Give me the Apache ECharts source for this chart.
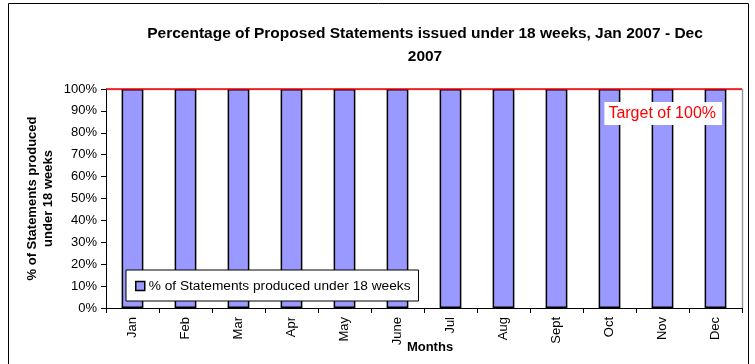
<!DOCTYPE html>
<html>
<head>
<meta charset="utf-8">
<script src="https://cdn.jsdelivr.net/npm/echarts@6/dist/echarts.min.js"></script>
<style>
  html, body { margin: 0; padding: 0; background: #fff; }
  #chart { width: 755px; height: 364px; }
</style>
</head>
<body>
<div id="chart"></div>
<script>
// Monthly share of proposed statements issued within 18 weeks (2007)
const months = ['Jan', 'Feb', 'Mar', 'Apr', 'May', 'June', 'Jul', 'Aug', 'Sept', 'Oct', 'Nov', 'Dec'];
const pctUnder18Weeks = [100, 100, 100, 100, 100, 100, 100, 100, 100, 100, 100, 100];
const targetPct = 100;
const seriesName = '% of Statements produced under 18 weeks';

const FONT = '"Liberation Sans", Arial, sans-serif';
const chart = echarts.init(document.getElementById('chart'), null, { renderer: 'canvas' });

chart.setOption({
  animation: false,
  backgroundColor: '#fff',
  textStyle: { fontFamily: FONT },
  title: {
    text: 'Percentage of Proposed Statements issued under 18 weeks, Jan 2007 - Dec\n2007',
    left: 420,
    textAlign: 'center',
    top: 17,
    textStyle: { fontFamily: FONT, fontSize: 15.5, fontWeight: 'bold', color: '#000', lineHeight: 23 }
  },
  graphic: [
    {
      type: 'rect',
      shape: { x: 8.5, y: 3.5, width: 740, height: 370 },
      style: { fill: 'none', stroke: '#000', lineWidth: 1 },
      silent: true
    },
    {
      // light frame on the top and right of the plot area
      type: 'polyline',
      shape: { points: [[106, 89.5], [742.5, 89.5], [742.5, 308]] },
      style: { stroke: '#9a9a9a', lineWidth: 1.5, fill: 'none' },
      silent: true
    }
  ],
  legend: {
    left: 126,
    top: 270,
    orient: 'horizontal',
    padding: [9, 8, 8, 9],
    borderColor: '#000',
    borderWidth: 1,
    backgroundColor: '#fff',
    itemWidth: 9,
    itemHeight: 9,
    itemGap: 4,
    textStyle: { fontFamily: FONT, fontSize: 13.7, color: '#000', padding: [0, 0, 0, -1] },
    data: [{ name: seriesName, icon: 'rect', itemStyle: { borderColor: '#000', borderWidth: 1.5 } }]
  },
  grid: { left: 106, right: 13, top: 89, bottom: 56, outerBoundsMode: 'none', containLabel: false },
  xAxis: {
    type: 'category',
    data: months,
    name: 'Months',
    nameLocation: 'middle',
    nameGap: 33,
    nameMoveOverlap: false,
    nameTextStyle: { fontFamily: FONT, fontSize: 13, fontWeight: 'bold', color: '#000', padding: [0, 0, 0, 12] },
    axisLine: { lineStyle: { color: '#000', width: 1 } },
    axisTick: { show: true, alignWithLabel: false, length: 5, lineStyle: { color: '#000' } },
    axisLabel: { rotate: 90, margin: 9, fontFamily: FONT, fontSize: 13, color: '#000', interval: 0 }
  },
  yAxis: {
    type: 'value',
    min: 0,
    max: 100,
    interval: 10,
    name: '% of Statements produced\nunder 18 weeks',
    nameLocation: 'middle',
    nameRotate: 90,
    nameGap: 50,
    nameMoveOverlap: false,
    nameTextStyle: { fontFamily: FONT, fontSize: 13, fontWeight: 'bold', color: '#000', lineHeight: 16 },
    axisLine: { show: true, lineStyle: { color: '#000', width: 1 } },
    axisTick: { show: true, length: 5, lineStyle: { color: '#000' } },
    splitLine: { show: false },
    axisLabel: { formatter: '{value}%', margin: 9, fontFamily: FONT, fontSize: 13, color: '#000' }
  },
  series: [
    {
      name: seriesName,
      type: 'bar',
      data: pctUnder18Weeks,
      barWidth: '41%',
      itemStyle: { color: '#9999FF', borderColor: '#000', borderWidth: 1.5 },
      markLine: {
        silent: true,
        symbol: 'none',
        lineStyle: { color: '#FF0000', width: 1.5, type: 'solid' },
        label: {
          show: true,
          position: 'insideEndBottom',
          formatter: 'Target of 100%',
          fontFamily: FONT,
          fontSize: 16,
          color: '#FF0000',
          backgroundColor: '#fff',
          padding: [4, 6, 3, 4],
          distance: [20, 13]
        },
        data: [{ yAxis: targetPct }]
      },
      z: 2
    }
  ]
});
</script>
</body>
</html>
